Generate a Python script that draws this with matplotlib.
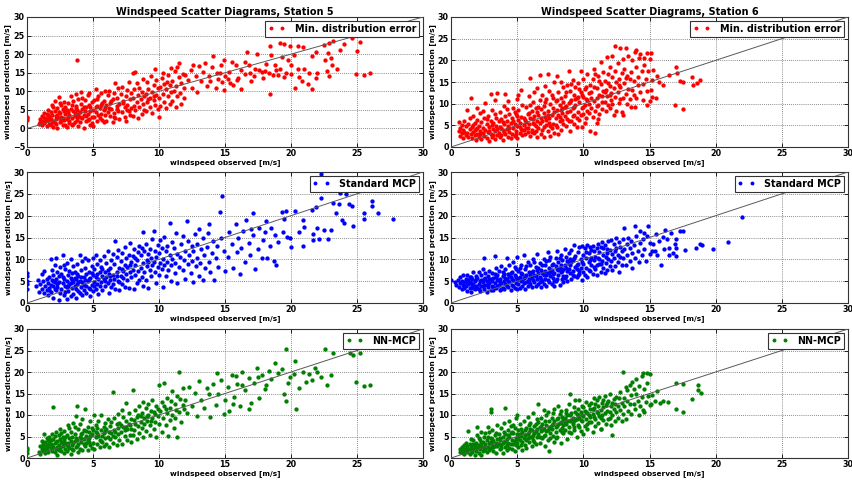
import matplotlib
matplotlib.use("Agg")
import matplotlib.pyplot as plt

# Observed vs. predicted wind speed [m/s], one list of (observed, predicted) per method and station

s5_min_dist = [
    (0.0,2.2),(0.0,2.8),(0.0,3.1),
    (0.9,1.2),(1.0,2.6),(1.1,3.4),(1.1,0.8),(1.2,2.0),(1.3,4.1),(1.3,1.5),(1.4,2.9),(1.5,0.6),(1.5,3.8),(1.6,2.2),(1.6,5.0),(1.7,1.1),(1.7,3.2),(1.8,2.6),(1.8,4.4),(1.9,1.7),(1.9,6.2),(1.2,3.0),(1.4,1.9),(1.6,3.5),(1.8,0.9),(1.0,1.8),(1.5,2.5),(1.9,3.6),
    (2.0,0.4),(2.0,2.1),(2.1,4.8),(2.1,7.5),(2.2,1.3),(2.2,3.3),(2.3,5.6),(2.3,0.2),(2.4,2.7),(2.4,8.4),(2.5,4.1),(2.5,1.6),(2.6,6.3),(2.6,3.0),(2.7,0.8),(2.7,5.2),(2.8,2.3),(2.8,7.0),(2.9,3.9),(2.9,1.0),(2.0,5.7),(2.2,2.5),(2.4,4.5),(2.6,1.9),(2.8,4.8),(2.3,3.7),(2.5,6.9),(2.7,2.9),(2.9,5.8),(2.1,1.5),
    (3.0,0.3),(3.0,2.5),(3.1,4.4),(3.1,6.8),(3.2,1.4),(3.2,3.6),(3.3,8.6),(3.3,5.3),(3.4,0.9),(3.4,2.9),(3.5,4.7),(3.5,7.3),(3.6,1.8),(3.6,3.3),(3.7,6.0),(3.7,9.3),(3.8,2.4),(3.8,4.9),(3.9,0.6),(3.9,7.8),(3.8,18.4),(3.0,5.0),(3.2,2.1),(3.4,6.2),(3.6,4.1),(3.8,3.0),(3.1,3.2),(3.5,1.2),(3.7,5.4),(3.9,3.8),
    (4.0,1.6),(4.0,4.5),(4.1,6.7),(4.1,9.8),(4.2,2.8),(4.2,5.2),(4.3,0.0),(4.3,3.7),(4.4,7.6),(4.5,1.9),(4.5,5.9),(4.6,4.0),(4.6,8.9),(4.7,2.5),(4.7,6.4),(4.8,0.8),(4.8,4.8),(4.9,3.2),(4.9,7.1),(4.0,3.1),(4.2,8.1),(4.4,4.6),(4.6,2.2),(4.8,5.7),(4.3,5.9),(4.5,3.4),(4.7,9.5),(4.9,1.4),
    (5.0,0.6),(5.0,5.0),(5.1,3.1),(5.1,7.7),(5.2,10.5),(5.2,4.3),(5.3,1.9),(5.3,6.1),(5.4,8.8),(5.5,2.8),(5.5,5.5),(5.6,4.0),(5.6,9.6),(5.7,6.8),(5.7,2.2),(5.8,4.9),(5.8,7.4),(5.9,3.5),(5.9,10.1),(5.2,5.8),(5.4,3.6),(5.6,6.4),(5.8,1.6),(5.3,8.0),(5.9,5.4),
    (6.0,2.0),(6.0,6.2),(6.1,4.4),(6.1,8.9),(6.2,10.2),(6.3,3.3),(6.3,6.9),(6.4,5.3),(6.5,1.6),(6.5,7.8),(6.6,4.1),(6.6,9.5),(6.7,12.3),(6.7,2.8),(6.8,6.0),(6.8,8.3),(6.9,4.8),(6.9,10.8),(6.2,5.6),(6.4,7.3),(6.6,3.0),(6.8,5.1),
    (7.0,2.5),(7.0,6.6),(7.1,9.2),(7.2,4.3),(7.2,11.2),(7.3,7.4),(7.4,3.0),(7.4,5.7),(7.5,8.6),(7.5,1.9),(7.6,10.3),(7.6,6.2),(7.7,4.6),(7.7,12.5),(7.8,7.9),(7.8,3.6),(7.9,9.6),(7.9,5.5),(7.3,6.8),(7.6,4.9),
    (8.0,3.4),(8.0,8.2),(8.0,14.9),(8.1,6.1),(8.1,10.6),(8.2,4.9),(8.3,12.1),(8.3,7.2),(8.4,2.7),(8.4,9.1),(8.5,5.7),(8.5,11.0),(8.6,7.9),(8.7,3.9),(8.7,9.8),(8.8,6.5),(8.8,13.4),(8.9,8.6),(8.9,5.0),(8.2,15.3),
    (9.0,4.7),(9.0,9.3),(9.1,7.0),(9.1,12.4),(9.2,10.6),(9.3,5.8),(9.3,8.2),(9.4,14.0),(9.5,4.1),(9.5,9.9),(9.6,7.6),(9.6,11.7),(9.7,6.3),(9.7,15.9),(9.8,9.0),(9.8,13.0),(9.9,5.3),(9.9,10.8),(9.2,7.9),(9.6,8.7),
    (10.0,3.2),(10.0,8.3),(10.1,11.2),(10.1,6.0),(10.2,13.5),(10.3,9.4),(10.3,15.0),(10.4,7.1),(10.5,10.5),(10.5,5.4),(10.6,12.6),(10.7,8.7),(10.7,14.3),(10.8,6.7),(10.8,11.6),(10.9,9.9),(10.9,16.2),(10.4,12.0),
    (11.0,7.3),(11.0,12.9),(11.1,10.0),(11.2,15.4),(11.3,5.9),(11.3,11.4),(11.4,8.6),(11.5,13.8),(11.5,17.5),(11.6,9.5),(11.7,12.2),(11.7,6.6),(11.8,14.6),(11.9,10.8),(11.9,8.1),(11.4,16.6),
    (24.6,24.4),(25.2,23.3),(25.0,20.9),(24.9,14.7),(25.5,14.4),(26.0,15.0),(24.0,22.8),(23.7,21.2),(23.2,23.6),(22.9,22.9),(22.5,22.4),(22.8,20.3),(23.0,19.0),(22.6,18.3),(23.1,17.0),(22.7,15.5),(22.9,14.0),(22.0,15.0),(21.9,13.6),(21.4,14.8),
    (21.0,16.1),(20.6,13.8),(20.3,11.0),(21.6,10.7),(21.3,12.0),(20.8,12.8),(20.5,15.9),(20.0,17.0),(20.9,21.8),(20.5,22.3),(19.9,22.2),(19.5,22.6),(19.2,22.9),(18.4,22.3),(18.5,19.9),(18.1,17.4),(18.8,17.0),(19.2,16.0),(19.6,15.0),(19.8,18.5),
    (19.3,19.2),(18.6,14.5),(18.3,14.8),(18.0,15.5),(18.4,9.4),(17.9,13.5),(17.6,15.7),(17.3,16.0),(17.4,20.0),(16.7,20.5),(16.5,17.8),(16.9,14.9),(16.5,14.6),(16.2,15.8),(15.9,13.0),(15.8,17.2),(15.5,17.9),(15.3,15.1),(15.6,11.8),(15.2,13.2),
    (14.9,18.5),(14.7,17.2),(14.6,15.0),(14.8,12.5),(14.4,14.8),(14.1,19.5),(14.0,16.5),(13.8,14.0),(14.3,11.0),(14.9,10.3),(13.5,17.5),(13.3,15.2),(13.2,12.8),(13.0,16.8),(12.8,14.0),(13.6,11.5),(12.6,17.1),(12.4,15.6),(12.2,13.0),(12.5,11.0),
    (12.0,14.4),(12.9,9.7),(13.9,12.7),(14.5,13.3),(15.0,14.0),(16.0,13.6),(17.0,12.8),(16.8,17.2),(17.8,15.1),(19.0,14.3),(19.5,13.9),(21.6,19.4),(21.9,20.7),(23.5,16.0),(20.2,19.9),(20.0,14.7),(18.9,15.6),(17.2,14.0),(16.2,10.7),(15.4,12.3),
]

s6_min_dist = [
    (0.6,3.8),(0.6,5.8),(0.7,2.6),(0.7,4.5),(0.8,3.2),(0.8,5.1),(0.9,2.1),(0.9,4.0),(1.0,3.5),(1.0,6.1),(1.1,2.8),(1.1,4.8),(1.2,8.5),(1.2,3.3),(1.3,5.4),(1.3,2.3),(1.4,4.2),(1.4,6.6),(1.5,3.0),(1.5,11.2),
    (1.6,2.0),(1.6,4.6),(1.7,3.5),(1.7,7.2),(1.8,2.7),(1.8,5.5),(1.9,1.6),(1.9,4.1),(2.0,3.1),(2.0,6.3),(2.0,9.0),(2.1,2.3),(2.1,4.9),(2.2,3.8),(2.2,7.8),(2.3,1.8),(2.3,5.7),(2.4,3.3),(2.4,4.4),(2.5,2.6),(2.5,6.8),(1.8,3.9),(2.2,2.9),(2.4,8.4),(1.7,5.0),(2.0,4.4),
    (2.6,4.0),(2.6,10.1),(2.7,2.1),(2.7,5.3),(2.8,3.4),(2.8,7.2),(2.9,1.5),(2.9,4.6),(3.0,3.0),(3.0,6.1),(3.0,12.3),(3.1,2.4),(3.1,8.6),(3.2,4.2),(3.2,5.5),(3.3,1.9),(3.3,3.6),(3.3,10.8),(3.4,6.8),(3.4,4.9),(3.5,2.7),(3.5,12.4),(2.7,6.4),(2.9,3.8),(3.1,5.0),(3.3,7.6),(3.5,4.1),(3.2,2.8),
    (3.6,3.2),(3.6,5.9),(3.7,2.2),(3.7,8.0),(3.8,4.4),(3.8,6.5),(3.9,1.7),(3.9,3.9),(4.0,5.3),(4.0,9.4),(4.1,2.9),(4.1,12.2),(4.1,7.1),(4.2,4.1),(4.2,6.0),(4.3,2.4),(4.3,4.9),(4.3,10.6),(4.4,3.5),(4.4,7.7),(4.5,5.6),(4.5,2.0),(3.7,4.7),(3.9,5.8),(4.0,3.4),(4.2,8.7),(4.4,4.4),(3.8,2.7),
    (4.6,3.1),(4.6,6.6),(4.7,4.3),(4.7,9.0),(4.8,2.5),(4.8,5.4),(4.9,7.7),(4.9,3.7),(5.0,4.8),(5.0,11.0),(5.0,2.1),(5.1,6.2),(5.1,8.6),(5.2,3.3),(5.2,5.6),(5.3,13.1),(5.3,4.2),(5.3,7.0),(5.4,2.7),(5.4,9.8),(5.5,5.1),(5.5,6.8),(4.7,5.9),(4.9,2.9),(5.0,7.1),(5.2,4.6),(5.4,3.9),(4.8,8.1),(5.1,12.0),(5.5,4.0),
    (5.6,2.9),(5.6,6.3),(5.7,4.5),(5.7,9.2),(5.8,3.5),(5.8,7.6),(5.9,5.2),(5.9,11.7),(6.0,2.6),(6.0,6.7),(6.0,15.9),(6.1,4.0),(6.1,8.4),(6.2,5.6),(6.2,10.3),(6.3,3.2),(6.3,7.1),(6.3,12.8),(6.4,4.8),(6.4,9.0),(6.5,6.0),(6.5,2.3),(5.7,5.8),(5.9,7.9),(6.1,3.4),(6.3,5.3),(6.5,8.0),(5.8,4.3),(6.0,9.7),(6.2,6.4),(6.4,3.8),(6.5,13.6),
    (6.6,4.4),(6.6,7.3),(6.7,16.6),(6.7,5.5),(6.7,10.8),(6.8,3.0),(6.8,8.8),(6.9,6.1),(6.9,12.0),(7.0,4.6),(7.0,9.5),(7.0,2.2),(7.1,7.0),(7.1,14.0),(7.2,5.1),(7.2,11.0),(7.3,3.6),(7.3,8.2),(7.3,16.8),(7.4,6.6),(7.4,13.0),(7.5,4.9),(7.5,9.9),(6.6,9.3),(6.8,6.7),(7.0,7.8),(7.2,6.2),(7.4,5.5),(6.9,3.9),(7.1,10.3),(7.3,7.4),(7.5,2.6),
    (7.6,7.4),(7.6,12.1),(7.7,5.3),(7.7,9.1),(7.8,3.3),(7.8,14.9),(7.9,6.8),(7.9,10.6),(8.0,4.6),(8.0,8.5),(8.0,16.4),(8.1,7.3),(8.1,12.6),(8.2,5.9),(8.2,9.8),(8.3,3.9),(8.3,11.4),(8.3,15.1),(8.4,7.9),(8.4,6.2),(8.5,10.3),(8.5,13.8),(7.6,4.3),(7.8,8.0),(8.0,10.9),(8.2,7.0),(8.4,9.0),(7.7,11.2),(7.9,5.0),(8.1,2.9),(8.3,8.6),(8.5,5.4),
    (8.6,7.1),(8.6,11.8),(8.7,4.8),(8.7,9.4),(8.8,14.4),(8.8,6.5),(8.9,10.1),(8.9,17.5),(9.0,8.2),(9.0,12.9),(9.0,3.7),(9.1,6.0),(9.1,10.9),(9.2,8.9),(9.2,15.5),(9.3,5.3),(9.3,12.0),(9.3,7.5),(9.4,9.8),(9.4,13.9),(9.5,6.8),(9.5,11.3),(8.6,9.2),(8.8,8.1),(9.0,10.4),(9.2,7.1),(9.4,11.1),(8.7,12.8),(8.9,5.9),(9.1,14.6),(9.3,9.2),(9.5,4.6),
    (9.6,8.1),(9.6,14.8),(9.7,10.4),(9.7,6.2),(9.8,12.6),(9.8,17.6),(9.9,9.0),(9.9,4.7),(10.0,11.5),(10.0,7.6),(10.0,15.6),(10.1,13.3),(10.1,9.6),(10.2,6.7),(10.2,11.0),(10.3,16.9),(10.3,8.4),(10.4,12.5),(10.4,10.0),(10.5,3.6),(10.5,14.3),(9.6,11.6),(9.8,7.3),(10.0,9.2),(10.2,13.9),(10.4,7.8),(9.7,13.3),(9.9,11.9),(10.1,5.6),(10.3,10.8),
    (10.6,9.1),(10.6,12.8),(10.7,6.9),(10.7,15.7),(10.8,10.6),(10.8,18.0),(10.9,3.3),(10.9,8.3),(11.0,13.6),(11.0,11.2),(11.0,5.6),(11.1,16.4),(11.1,9.8),(11.2,7.6),(11.2,12.1),(11.3,19.6),(11.3,14.6),(11.4,10.4),(11.4,8.7),(11.5,17.2),(11.5,12.9),(10.6,11.4),(10.8,13.8),(11.0,9.5),(11.2,15.2),(11.4,11.7),(10.9,16.9),(11.1,6.4),
    (11.6,10.5),(11.6,15.3),(11.7,13.2),(11.7,8.2),(11.8,20.7),(11.8,11.8),(11.9,16.8),(11.9,9.6),(12.0,14.0),(12.0,8.9),(12.0,18.5),(12.1,12.4),(12.1,10.8),(12.2,16.1),(12.2,21.0),(12.3,13.6),(12.3,7.3),(12.4,23.2),(12.4,11.5),(12.5,15.0),(12.5,8.3),(11.6,12.7),(11.9,14.8),(12.2,9.9),(12.4,17.6),(12.0,12.0),
    (12.6,12.6),(12.6,19.3),(12.7,10.2),(12.7,15.8),(12.8,22.8),(12.8,13.9),(12.9,8.0),(12.9,17.0),(13.0,11.4),(13.0,20.2),(13.0,7.5),(13.1,14.7),(13.1,18.1),(13.2,22.8),(13.2,12.2),(13.3,16.4),(13.3,9.9),(13.4,21.0),(13.4,13.5),(13.5,15.6),(13.5,11.0),(12.8,11.0),(13.2,16.0),(12.7,14.2),
    (13.6,17.4),(13.6,9.2),(13.7,20.0),(13.7,13.2),(13.8,15.3),(13.8,11.9),(13.9,22.0),(13.9,9.2),(14.0,18.4),(14.0,11.4),(14.0,22.3),(14.1,14.2),(14.1,16.2),(14.2,20.5),(14.3,12.8),(14.3,21.5),(14.4,17.6),(14.5,10.9),(14.5,14.6),(14.6,20.6),(14.6,19.0),(14.7,15.6),(14.8,21.6),(14.8,13.0),(14.8,9.6),(14.9,17.6),(15.0,20.3),(15.1,21.8),
    (15.0,10.7),(15.2,11.6),(15.1,13.2),(15.2,15.4),(15.3,17.8),(15.6,16.5),(15.7,14.9),(16.5,16.7),(17.0,18.4),(17.1,17.0),(17.3,15.2),(17.5,15.0),(18.2,16.1),(18.3,14.3),(18.6,14.8),(18.8,15.4),(16.9,9.7),(17.5,8.8),(15.5,11.4),(16.0,14.3),
]

s5_standard = [
    (0.0,3.2),(0.0,4.3),(0.0,5.1),(0.0,6.2),(0.0,6.8),(0.7,3.9),(0.8,5.2),(0.9,2.6),(1.0,4.4),(1.1,6.6),(1.1,3.1),(1.2,5.0),(1.3,2.2),(1.3,7.4),(1.4,4.0),(1.5,5.6),(1.5,3.0),
    (1.6,1.8),(1.6,4.6),(1.7,3.4),(1.7,6.0),(1.8,10.0),(1.8,2.6),(1.9,5.2),(1.9,7.6),(2.0,3.9),(2.0,1.2),(2.0,6.4),(2.1,4.7),(2.1,8.8),(2.2,2.9),(2.2,5.6),(2.2,10.3),(2.3,3.6),(2.3,7.0),(2.4,0.6),(2.4,4.9),(2.4,6.1),(2.5,2.3),(2.5,8.2),(1.8,4.2),(2.0,5.0),(2.3,4.3),(1.7,3.0),(2.1,3.2),
    (2.6,3.3),(2.6,6.7),(2.7,4.6),(2.7,11.0),(2.8,1.8),(2.8,5.5),(2.9,7.9),(2.9,3.8),(3.0,5.0),(3.0,0.9),(3.0,9.2),(3.1,2.7),(3.1,6.3),(3.2,4.3),(3.2,7.4),(3.3,1.5),(3.3,5.8),(3.3,10.1),(3.4,3.4),(3.4,6.8),(3.5,4.8),(3.5,2.1),(2.7,5.9),(2.9,2.5),(3.1,4.0),(3.3,4.5),(3.5,8.5),(2.8,8.6),(3.0,3.7),(3.4,5.3),
    (3.6,3.9),(3.6,7.0),(3.7,5.5),(3.7,1.1),(3.8,4.4),(3.8,8.9),(3.9,2.8),(3.9,6.2),(4.0,5.1),(4.0,11.1),(4.1,3.6),(4.1,7.5),(4.2,1.8),(4.2,4.7),(4.2,9.6),(4.3,6.0),(4.3,3.0),(4.4,5.3),(4.4,8.1),(4.5,4.0),(4.5,6.7),(3.7,3.2),(3.9,4.9),(4.1,6.0),(4.3,4.2),(4.5,2.4),(3.8,6.6),(4.0,2.2),(4.4,10.4),(3.6,5.7),
    (4.6,5.0),(4.6,9.8),(4.7,3.4),(4.7,7.2),(4.8,1.5),(4.8,5.7),(4.9,4.2),(4.9,8.4),(5.0,6.3),(5.0,2.7),(5.0,10.2),(5.1,4.8),(5.1,7.7),(5.2,3.1),(5.2,6.0),(5.3,9.0),(5.3,4.4),(5.4,5.4),(5.4,2.0),(5.5,7.1),(5.5,4.0),(4.7,5.6),(4.9,6.8),(5.1,3.8),(5.3,6.6),(5.5,9.9),(4.8,3.2),(5.2,11.0),
    (5.6,4.8),(5.6,8.3),(5.7,6.2),(5.7,2.9),(5.8,5.4),(5.8,10.8),(5.9,7.2),(5.9,3.9),(6.0,5.9),(6.0,9.1),(6.1,4.5),(6.1,12.0),(6.2,6.7),(6.2,2.2),(6.3,8.0),(6.3,5.2),(6.4,3.6),(6.4,9.9),(6.5,6.4),(6.5,4.3),(5.7,7.8),(5.9,5.0),(6.1,7.5),(6.3,6.1),(6.5,11.2),
    (6.6,5.4),(6.6,8.9),(6.7,14.1),(6.7,3.3),(6.8,7.0),(6.8,10.6),(6.9,5.0),(6.9,12.2),(7.0,8.0),(7.0,2.9),(7.1,6.1),(7.1,9.6),(7.2,4.4),(7.2,11.4),(7.3,7.4),(7.3,5.7),(7.4,8.8),(7.4,3.6),(7.5,6.6),(7.5,10.2),(6.8,6.2),(7.0,4.8),(7.2,7.8),(7.4,12.9),
    (7.6,5.3),(7.6,8.3),(7.7,11.0),(7.7,3.5),(7.8,7.0),(7.8,13.8),(7.9,9.3),(7.9,5.9),(8.0,10.7),(8.0,7.6),(8.1,3.1),(8.1,12.3),(8.2,8.6),(8.2,6.4),(8.3,9.8),(8.3,4.6),(8.4,11.6),(8.4,7.3),(8.5,13.0),(8.5,5.2),(7.8,8.7),(8.2,10.2),
    (8.6,8.0),(8.6,10.9),(8.7,6.0),(8.7,12.7),(8.8,4.0),(8.8,9.2),(8.9,11.8),(8.9,7.1),(9.0,13.5),(9.0,5.3),(9.1,9.9),(9.1,8.4),(9.2,11.2),(9.2,3.4),(9.3,7.6),(9.3,12.4),(9.4,10.3),(9.4,6.2),(9.5,14.6),(9.5,8.7),(8.8,16.3),(9.2,9.3),
    (9.6,16.5),(9.6,9.5),(9.7,7.0),(9.7,12.0),(9.8,10.6),(9.8,4.6),(9.9,8.3),(9.9,13.3),(10.0,11.4),(10.0,6.5),(10.1,9.2),(10.1,14.5),(10.2,7.8),(10.2,12.6),(10.3,10.1),(10.3,3.6),(10.4,8.8),(10.4,15.1),(10.5,11.8),(10.5,6.1),
    (10.6,9.4),(10.6,13.1),(10.7,7.5),(10.8,18.4),(10.8,11.0),(10.9,5.0),(10.9,8.6),(11.0,14.0),(11.0,10.1),(11.1,12.5),(11.2,6.9),(11.2,9.2),(11.3,16.0),(11.4,11.3),(11.4,4.6),(11.5,8.3),
    (11.6,10.6),(11.7,13.6),(11.8,7.6),(11.8,15.3),(11.9,9.8),(12.0,12.0),(12.0,5.6),(12.1,18.7),(12.2,8.9),(12.2,14.3),(12.3,11.0),(12.4,6.9),(12.5,13.0),(12.5,9.6),
    (12.6,4.8),(12.6,11.9),(12.7,15.8),(12.8,8.4),(12.9,10.3),(12.9,13.6),(13.0,6.1),(13.0,16.9),(13.1,9.1),(13.2,12.4),(13.3,5.2),(13.3,14.8),(13.4,10.9),(13.5,8.0),
    (13.6,12.9),(13.7,16.0),(13.8,9.5),(13.8,18.0),(13.9,7.0),(14.0,11.4),(14.1,14.1),(14.2,5.3),(14.3,10.4),(14.4,13.0),(14.5,8.3),(14.6,20.8),(14.7,15.0),(14.8,24.5),(14.9,11.8),(15.0,7.4),
    (15.2,10.5),(15.3,16.2),(15.5,13.4),(15.6,8.0),(15.8,18.0),(15.9,11.6),(16.0,14.9),(16.1,6.6),(16.2,12.5),(16.4,16.5),(16.5,9.3),(16.6,18.9),(16.8,13.8),(16.9,11.0),(17.1,20.5),(17.1,15.6),(17.3,7.8),(17.5,12.3),(17.6,17.1),(17.8,10.2),
    (17.9,14.4),(18.0,16.3),(18.2,10.3),(18.4,13.0),(18.5,17.2),(18.7,9.6),(18.8,15.5),(18.9,8.6),(19.0,13.9),(19.3,20.9),(19.4,16.2),(19.6,21.0),(19.7,15.2),(19.9,15.0),(20.3,21.1),(20.6,16.3),(20.9,13.1),(20.9,19.0),(21.0,17.4),(21.6,21.4),
    (21.7,15.8),(21.7,14.4),(22.1,14.7),(22.3,24.0),(22.3,29.5),(22.5,16.7),(22.8,14.7),(23.0,16.7),(23.2,22.8),(23.4,20.5),(23.6,22.6),(23.7,25.2),(23.9,19.0),(24.0,18.4),(24.4,22.6),(24.6,22.2),(24.7,17.7),(25.5,20.6),(25.5,19.3),(26.1,23.4),
    (26.1,22.3),(26.6,20.7),(27.7,19.2),(24.2,25.0),(21.9,21.9),(22.0,17.2),(19.5,19.3),(18.1,18.8),(17.0,16.9),(20.0,12.9),
]

s6_standard = [
    (0.0,5.2),(0.3,4.7),(0.4,4.1),(0.5,5.3),(0.6,3.6),(0.7,4.6),(0.7,5.9),(0.8,3.2),(0.8,5.0),(0.9,4.2),(0.9,6.3),(1.0,3.5),
    (1.0,4.9),(1.1,5.6),(1.1,3.9),(1.2,2.8),(1.2,6.4),(1.3,4.4),(1.3,5.2),(1.4,3.5),(1.4,6.0),(1.5,4.6),(1.5,2.6),(1.6,5.5),(1.6,3.8),(1.7,7.0),(1.7,4.3),(1.8,5.0),(1.8,3.1),(1.9,6.1),(1.9,4.0),(1.2,4.5),(1.5,5.9),(1.7,3.4),(1.4,4.9),(1.9,5.4),
    (2.0,3.5),(2.0,5.8),(2.1,4.4),(2.1,7.2),(2.2,2.8),(2.2,5.1),(2.3,6.4),(2.3,3.8),(2.4,4.7),(2.4,7.7),(2.5,10.2),(2.5,3.2),(2.5,5.5),(2.6,4.1),(2.6,6.8),(2.7,2.6),(2.7,5.0),(2.8,3.6),(2.8,6.1),(2.9,4.5),(2.9,7.3),(3.0,3.0),(2.1,3.1),(2.3,5.2),(2.6,5.8),(2.8,4.3),(2.4,3.9),(2.9,5.6),
    (3.0,5.4),(3.1,6.9),(3.1,4.0),(3.2,2.9),(3.2,5.8),(3.3,10.7),(3.3,4.6),(3.4,8.0),(3.4,3.4),(3.5,5.2),(3.5,6.4),(3.6,4.1),(3.6,7.3),(3.7,2.9),(3.7,5.6),(3.8,4.5),(3.8,8.4),(3.9,3.5),(3.9,6.2),(4.0,5.0),(3.1,5.0),(3.3,6.6),(3.5,3.9),(3.7,4.8),(3.9,7.1),(3.2,3.6),(3.4,5.9),(3.6,5.2),(3.8,3.3),(4.0,6.7),
    (4.0,3.1),(4.1,4.3),(4.1,7.8),(4.2,10.3),(4.2,5.5),(4.3,3.6),(4.3,6.6),(4.4,4.8),(4.4,8.7),(4.5,3.0),(4.5,5.9),(4.6,7.2),(4.6,4.1),(4.7,5.3),(4.7,9.3),(4.8,3.4),(4.8,6.5),(4.9,4.6),(4.9,7.9),(5.0,5.6),(4.1,5.8),(4.3,5.0),(4.5,6.9),(4.7,3.8),(4.9,5.9),(4.2,4.0),(4.4,6.2),(4.6,5.5),(4.8,8.2),(5.0,3.2),
    (5.0,10.6),(5.1,4.3),(5.1,7.4),(5.2,6.0),(5.2,3.5),(5.3,8.8),(5.3,5.1),(5.4,6.7),(5.4,4.0),(5.5,10.9),(5.5,5.7),(5.6,3.3),(5.6,7.9),(5.7,4.8),(5.7,6.3),(5.8,9.5),(5.8,3.9),(5.9,5.4),(5.9,7.2),(6.0,4.4),(5.1,5.6),(5.3,6.9),(5.5,4.5),(5.7,8.5),(5.9,4.9),(5.2,8.0),(5.4,5.2),(5.6,6.0),(5.8,5.1),(6.0,6.5),
    (6.0,8.7),(6.1,3.6),(6.1,5.8),(6.2,7.3),(6.2,10.0),(6.3,4.8),(6.3,6.5),(6.4,3.9),(6.4,8.3),(6.5,5.5),(6.5,11.2),(6.6,6.8),(6.6,4.3),(6.7,9.1),(6.7,5.9),(6.8,3.7),(6.8,7.6),(6.9,5.0),(6.9,8.8),(7.0,6.4),(6.1,7.0),(6.3,9.3),(6.5,7.6),(6.7,4.9),(6.9,6.8),(6.2,5.2),(6.4,6.1),(6.6,8.0),(6.8,5.6),(7.0,10.1),
    (7.0,4.3),(7.1,7.3),(7.1,5.5),(7.2,9.6),(7.2,3.8),(7.3,6.8),(7.3,11.6),(7.4,4.9),(7.4,8.1),(7.5,6.1),(7.5,10.5),(7.6,4.4),(7.6,7.5),(7.7,5.8),(7.7,9.0),(7.8,3.9),(7.8,6.9),(7.9,8.4),(7.9,5.1),(8.0,7.7),(7.1,8.6),(7.3,5.2),(7.5,7.0),(7.7,6.6),(7.9,10.2),(7.2,6.3),(7.4,9.9),(7.6,8.7),(7.8,5.0),(8.0,12.0),
    (8.0,5.4),(8.1,9.4),(8.1,6.5),(8.2,4.2),(8.2,8.1),(8.3,11.0),(8.3,7.1),(8.4,5.6),(8.4,9.9),(8.5,7.7),(8.5,4.8),(8.6,12.3),(8.6,8.6),(8.7,6.2),(8.7,10.6),(8.8,7.3),(8.8,5.0),(8.9,9.1),(8.9,11.5),(9.0,6.8),(8.1,7.6),(8.3,8.8),(8.5,6.1),(8.7,8.0),(8.9,7.8),(8.2,10.3),(8.4,7.3),(8.6,5.7),(8.8,9.6),(9.0,10.0),
    (9.0,8.6),(9.1,5.5),(9.1,12.1),(9.2,7.4),(9.2,9.8),(9.3,6.2),(9.3,13.2),(9.4,8.3),(9.4,10.7),(9.5,5.9),(9.5,7.8),(9.6,11.6),(9.6,9.0),(9.7,6.7),(9.7,12.8),(9.8,8.0),(9.8,10.1),(9.9,5.2),(9.9,9.4),(10.0,11.0),(9.1,9.5),(9.3,10.4),(9.5,8.8),(9.7,7.4),(9.9,13.1),(9.2,6.5),(9.6,6.4),(10.0,7.2),
    (10.0,9.0),(10.1,12.6),(10.1,6.3),(10.2,10.2),(10.2,8.1),(10.3,13.3),(10.3,5.9),(10.4,9.5),(10.4,11.4),(10.5,7.4),(10.5,12.8),(10.6,8.7),(10.6,10.4),(10.7,6.6),(10.7,13.0),(10.8,9.8),(10.8,11.8),(10.9,7.8),(10.9,10.6),(11.0,8.6),(10.2,11.6),(10.4,7.6),(10.6,12.1),(10.8,8.3),(11.0,12.5),(10.5,9.8),
    (11.0,6.5),(11.1,10.3),(11.1,13.6),(11.2,8.9),(11.2,11.7),(11.3,7.1),(11.3,12.9),(11.4,9.7),(11.4,14.0),(11.5,8.0),(11.5,11.0),(11.6,6.9),(11.6,13.2),(11.7,9.2),(11.7,10.5),(11.8,12.3),(11.8,7.6),(11.9,14.2),(11.9,10.0),(12.0,8.5),(11.2,10.0),(11.5,12.6),(11.8,11.5),(11.3,9.0),
    (12.0,12.1),(12.1,9.6),(12.1,14.4),(12.2,7.5),(12.2,11.3),(12.3,13.5),(12.3,10.2),(12.4,8.4),(12.5,12.7),(12.5,14.9),(12.6,9.3),(12.6,11.1),(12.7,7.2),(12.7,13.9),(12.8,10.5),(12.9,12.0),(12.9,8.7),(13.0,14.6),(12.4,11.8),(12.8,12.9),
    (13.0,10.3),(13.1,17.2),(13.1,12.3),(13.2,8.6),(13.3,13.6),(13.3,11.0),(13.4,15.0),(13.5,9.6),(13.5,12.6),(13.6,14.3),(13.7,11.5),(13.7,8.1),(13.8,13.2),(13.9,17.7),(13.9,10.4),(14.0,15.3),(14.1,12.0),(14.2,9.3),(14.3,16.5),(14.3,13.8),(14.4,11.0),(14.5,14.6),
    (14.6,12.4),(14.7,9.6),(14.8,15.4),(14.9,17.6),(15.0,11.2),(15.0,13.8),(15.2,12.0),(15.3,13.5),(15.5,15.8),(15.6,10.9),(15.7,14.3),(15.9,8.6),(16.0,15.2),(16.1,12.4),(16.2,16.7),(16.3,14.7),(16.5,12.7),(16.5,11.0),(16.6,16.0),(16.8,11.5),
    (17.0,14.7),(17.0,12.5),(17.0,10.8),(17.3,16.4),(17.5,16.6),(17.7,12.2),(18.5,12.5),(18.8,13.5),(19.0,13.2),(19.8,12.4),(20.9,14.0),(22.0,19.7),(16.9,13.4),(15.4,11.8),(14.6,16.1),
]

s5_nn = [
    (0.0,1.2),(0.0,1.8),(0.0,2.3),(0.9,1.3),(1.0,2.9),(1.0,1.0),
    (1.1,2.2),(1.1,4.0),(1.2,1.6),(1.2,3.3),(1.3,5.5),(1.3,2.6),(1.4,1.2),(1.4,3.7),(1.5,2.0),(1.5,4.6),(1.6,2.9),(1.6,1.4),(1.7,3.5),(1.7,5.0),(1.8,2.3),(1.8,4.1),(1.9,1.7),(1.9,3.0),(2.0,11.8),(1.2,2.8),(1.4,2.4),(1.6,4.2),(1.8,3.3),(1.5,3.1),(1.9,5.6),(1.3,1.9),
    (2.0,2.6),(2.0,4.5),(2.1,1.3),(2.1,3.4),(2.2,6.0),(2.2,2.1),(2.3,4.0),(2.3,0.8),(2.4,3.0),(2.4,5.3),(2.5,2.4),(2.5,6.8),(2.6,3.7),(2.6,1.6),(2.7,4.8),(2.7,2.9),(2.8,6.3),(2.8,1.1),(2.9,3.4),(2.9,5.0),(2.1,5.1),(2.3,2.6),(2.5,4.4),(2.7,3.6),(2.9,2.2),(2.2,3.8),(2.4,1.8),(2.6,5.7),(2.8,4.2),(3.0,3.0),
    (3.0,1.6),(3.0,5.4),(3.1,3.6),(3.1,7.6),(3.2,2.3),(3.2,4.6),(3.3,0.9),(3.3,6.1),(3.4,3.1),(3.4,4.9),(3.5,1.8),(3.5,8.2),(3.6,3.9),(3.6,5.6),(3.7,2.6),(3.7,9.8),(3.8,12.0),(3.8,4.3),(3.9,6.7),(3.9,1.5),(3.1,2.8),(3.3,4.0),(3.5,3.4),(3.7,4.7),(3.9,3.2),(3.2,6.9),(3.4,2.1),(3.6,7.2),(3.8,2.9),(4.0,5.0),
    (4.0,2.1),(4.0,7.8),(4.1,3.8),(4.1,5.6),(4.2,1.8),(4.2,9.1),(4.3,4.4),(4.3,6.5),(4.4,2.8),(4.4,11.5),(4.5,5.1),(4.5,3.4),(4.6,7.3),(4.6,1.9),(4.7,4.7),(4.7,6.0),(4.8,3.0),(4.8,8.6),(4.9,5.5),(4.9,2.4),(4.1,4.6),(4.3,3.2),(4.5,6.2),(4.7,3.7),(4.9,7.0),(4.2,5.9),(4.6,4.2),(4.8,5.2),
    (5.0,3.6),(5.0,6.6),(5.1,2.2),(5.1,9.9),(5.2,4.9),(5.2,7.7),(5.3,3.2),(5.3,5.7),(5.4,8.5),(5.5,4.3),(5.5,2.6),(5.6,6.4),(5.6,10.0),(5.7,3.8),(5.7,5.1),(5.8,7.2),(5.8,2.9),(5.9,4.6),(5.9,8.1),(5.2,6.0),(5.4,5.2),(5.6,4.0),(5.8,5.8),(5.3,7.0),(5.9,6.2),
    (6.0,3.3),(6.0,6.8),(6.1,5.0),(6.1,9.0),(6.2,2.6),(6.3,7.5),(6.3,4.4),(6.4,5.9),(6.5,15.4),(6.5,3.6),(6.6,6.5),(6.6,9.4),(6.7,4.9),(6.8,7.8),(6.8,3.0),(6.9,5.6),(6.9,10.2),(6.2,6.1),(6.4,8.4),(6.7,6.1),(6.9,7.0),(6.5,5.2),
    (7.0,4.3),(7.0,8.2),(7.1,6.1),(7.2,11.2),(7.2,3.3),(7.3,7.1),(7.3,9.6),(7.4,5.2),(7.5,8.6),(7.5,12.9),(7.6,4.1),(7.6,6.7),(7.7,10.4),(7.8,7.6),(7.8,5.4),(7.9,9.1),(7.9,3.8),(7.1,7.6),(7.4,6.4),(7.7,8.0),(7.9,6.7),(7.5,7.3),
    (8.0,5.3),(8.0,15.8),(8.1,8.8),(8.1,6.6),(8.2,11.2),(8.3,4.4),(8.3,9.6),(8.4,7.4),(8.5,12.0),(8.5,5.8),(8.6,8.4),(8.7,10.5),(8.7,6.9),(8.8,13.0),(8.8,4.8),(8.9,9.3),(8.9,7.8),(8.2,7.9),(8.6,9.8),(8.4,10.0),
    (9.0,6.2),(9.0,11.6),(9.1,8.6),(9.2,12.5),(9.2,10.0),(9.3,5.4),(9.3,7.7),(9.4,11.0),(9.5,9.2),(9.5,13.4),(9.6,6.8),(9.6,10.6),(9.7,8.3),(9.8,12.1),(9.8,4.9),(9.9,9.7),(9.9,11.3),(9.1,9.8),(9.4,8.5),(9.7,10.3),
    (10.0,8.0),(10.0,16.9),(10.1,11.0),(10.2,6.0),(10.2,13.0),(10.3,9.3),(10.4,12.0),(10.4,17.4),(10.5,7.6),(10.6,10.5),(10.6,14.0),(10.7,5.1),(10.8,11.7),(10.8,8.9),(10.9,13.3),(11.0,10.0),(11.0,15.6),(11.1,6.9),(11.2,12.5),(11.2,9.4),
    (11.3,11.1),(11.4,14.5),(11.4,4.9),(11.5,10.7),(11.6,13.8),(11.7,8.3),(11.8,12.4),(11.8,16.2),(11.9,11.4),(10.5,11.3),
    (19.6,25.4),(22.6,25.3),(23.2,24.4),(24.5,24.4),(24.7,23.9),(25.2,24.4),(24.9,17.7),(25.5,16.7),(26.0,16.9),(23.0,19.4),(22.7,17.0),(22.3,18.8),(21.8,20.9),(21.6,18.1),(21.1,17.7),(20.4,11.4),(20.3,22.5),(20.9,20.0),(20.6,16.2),(20.2,19.5),
    (19.8,17.4),(19.5,15.0),(19.3,20.8),(19.0,19.7),(18.8,22.0),(18.5,18.3),(18.3,20.2),(18.0,16.0),(17.8,19.2),(17.6,14.0),(17.4,21.0),(17.2,17.5),(17.0,12.8),(16.8,18.6),(16.5,15.7),(16.3,20.0),(16.1,12.0),(15.9,17.3),(15.7,14.3),(15.5,19.4),
    (15.3,11.0),(15.2,16.5),(15.0,13.6),(14.9,10.2),(14.7,18.1),(14.5,15.0),(14.3,12.3),(14.1,17.2),(13.9,9.5),(13.8,14.8),(13.6,16.3),(13.4,11.7),(13.2,13.5),(13.0,18.0),(12.9,9.8),(12.7,15.2),(12.5,12.0),(12.3,16.6),(12.1,10.5),(12.0,13.6),
    (21.4,19.6),(22.0,20.0),(19.6,13.3),(16.8,11.3),(18.1,17.0),(17.5,18.8),(16.3,16.9),(19.9,18.9),(15.8,19.0),(14.4,19.8),(11.5,20.1),(15.6,12.6),
]

s6_nn = [
    (0.7,1.5),(0.7,2.1),(0.8,1.8),(0.8,2.6),(0.9,1.2),(0.9,2.3),(1.0,1.7),(1.0,3.0),(1.0,0.9),(1.1,2.0),(1.1,3.6),(1.2,1.4),(1.2,2.7),(1.3,6.3),(1.3,2.2),(1.4,1.0),(1.4,3.2),(1.5,1.8),(1.5,2.6),(1.5,4.5),
    (1.6,1.3),(1.6,3.0),(1.7,2.2),(1.7,4.1),(1.8,0.8),(1.8,2.8),(1.9,1.7),(1.9,3.5),(2.0,2.4),(2.0,5.4),(2.0,7.3),(2.1,1.2),(2.1,3.1),(2.2,2.0),(2.2,4.3),(2.3,2.9),(2.3,0.7),(2.3,6.0),(2.4,1.6),(2.4,3.7),(2.5,2.5),(2.5,4.9),(1.7,3.3),(1.9,2.5),(2.1,4.7),(2.3,3.4),(2.5,1.9),(2.2,2.6),
    (2.6,3.2),(2.6,5.8),(2.7,1.4),(2.7,4.1),(2.8,2.6),(2.8,7.1),(2.9,3.6),(2.9,1.9),(3.0,11.3),(3.0,10.8),(3.0,4.7),(3.0,2.3),(3.1,3.1),(3.1,6.4),(3.2,1.6),(3.2,4.0),(3.3,2.9),(3.3,5.3),(3.4,3.6),(3.4,1.2),(3.5,4.4),(3.5,7.7),(2.6,2.2),(2.8,4.9),(3.0,3.7),(3.2,2.5),(3.4,5.9),(2.9,6.0),(3.1,4.5),(3.5,2.8),
    (3.6,3.3),(3.6,5.6),(3.7,2.0),(3.7,4.3),(3.8,6.9),(3.8,3.0),(3.9,1.1),(3.9,5.0),(4.0,3.8),(4.0,8.2),(4.1,11.6),(4.1,2.6),(4.1,5.5),(4.2,4.5),(4.2,1.8),(4.3,3.5),(4.3,6.6),(4.4,2.4),(4.4,4.9),(4.5,3.3),(4.5,7.5),(3.7,4.6),(3.9,3.6),(4.1,4.0),(4.3,5.4),(4.5,5.8),(3.8,2.4),(4.0,6.0),(4.2,3.0),(4.4,8.7),
    (4.6,4.3),(4.6,2.0),(4.7,5.8),(4.7,3.3),(4.8,6.9),(4.8,1.6),(4.9,4.7),(4.9,9.2),(5.0,3.6),(5.0,5.5),(5.0,10.1),(5.1,2.5),(5.1,6.4),(5.2,4.2),(5.2,7.8),(5.3,3.0),(5.3,5.1),(5.4,6.0),(5.4,1.9),(5.5,4.6),(5.5,8.6),(4.6,6.1),(4.8,4.0),(5.0,4.5),(5.2,5.6),(5.4,3.7),(4.7,7.6),(4.9,3.0),(5.1,5.0),(5.3,6.8),
    (5.6,3.1),(5.6,5.3),(5.7,7.0),(5.7,2.3),(5.8,4.6),(5.8,9.6),(5.9,6.1),(5.9,3.7),(6.0,5.0),(6.0,8.1),(6.1,2.7),(6.1,6.6),(6.2,4.2),(6.2,10.5),(6.3,5.7),(6.3,7.5),(6.4,3.3),(6.4,6.2),(6.5,4.9),(6.5,9.0),(5.6,6.4),(5.8,5.6),(6.0,6.8),(6.2,5.3),(6.4,8.0),(5.7,4.1),(5.9,7.7),(6.1,4.8),(6.3,3.7),(6.5,6.7),
    (6.6,5.6),(6.6,12.6),(6.7,7.3),(6.7,3.6),(6.8,6.2),(6.8,9.3),(6.9,4.7),(6.9,8.0),(7.0,6.7),(7.0,11.2),(7.1,2.8),(7.1,5.4),(7.2,7.7),(7.2,9.9),(7.3,4.3),(7.3,6.6),(7.4,8.5),(7.4,1.6),(7.5,5.8),(7.5,7.2),(6.6,8.4),(6.8,7.1),(7.0,5.2),(7.2,6.3),(7.4,7.0),(6.7,5.0),(6.9,6.4),(7.1,8.7),(7.3,10.7),(7.5,4.7),
    (7.6,6.8),(7.6,9.4),(7.7,5.2),(7.7,8.0),(7.8,11.5),(7.8,3.8),(7.9,7.3),(7.9,6.1),(8.0,9.0),(8.0,4.8),(8.1,7.9),(8.1,12.2),(8.2,6.5),(8.2,10.2),(8.3,8.4),(8.3,3.5),(8.4,7.0),(8.4,9.6),(8.5,5.7),(8.5,8.8),(7.6,7.7),(7.8,8.7),(8.0,7.4),(8.2,8.1),(8.4,6.0),(7.7,10.4),(7.9,4.6),(8.1,9.3),(8.3,11.0),(8.5,7.6),
    (8.6,9.3),(8.6,6.5),(8.7,11.1),(8.7,8.0),(8.8,4.5),(8.8,9.9),(8.9,7.3),(8.9,12.6),(9.0,8.6),(9.0,15.0),(9.1,5.8),(9.1,10.5),(9.2,7.8),(9.2,9.4),(9.3,11.8),(9.3,6.6),(9.4,8.9),(9.4,13.4),(9.5,10.2),(9.5,4.9),(8.6,8.1),(8.8,8.6),(9.0,9.9),(9.2,8.3),(9.4,10.7),(8.7,10.4),(8.9,6.0),(9.1,8.9),(9.3,7.3),(9.5,9.0),
    (9.6,7.7),(9.6,11.3),(9.7,9.3),(9.7,13.6),(9.8,6.2),(9.8,10.6),(9.9,8.5),(9.9,12.1),(10.0,9.8),(10.0,5.5),(10.1,11.0),(10.1,7.4),(10.2,13.0),(10.2,9.1),(10.3,10.4),(10.3,6.7),(10.4,12.4),(10.4,8.3),(10.5,11.5),(10.5,9.6),(9.6,9.9),(9.8,8.9),(10.0,11.9),(10.2,10.7),(10.4,9.9),(9.7,7.1),(9.9,10.1),(10.3,8.0),
    (10.6,8.4),(10.6,12.9),(10.7,10.2),(10.7,6.0),(10.8,11.6),(10.8,14.0),(10.9,9.0),(10.9,7.5),(11.0,10.8),(11.0,13.4),(11.1,8.1),(11.1,12.0),(11.2,9.8),(11.2,14.2),(11.3,6.7),(11.3,11.2),(11.4,10.0),(11.4,12.8),(11.5,8.8),(11.5,11.9),(10.7,11.4),(10.9,12.5),(11.1,10.4),(11.3,9.4),(11.5,13.6),(10.8,9.5),
    (11.6,10.4),(11.6,14.5),(11.7,8.0),(11.7,12.3),(11.8,11.0),(11.9,13.3),(11.9,9.1),(12.0,10.7),(12.0,14.8),(12.1,12.0),(12.1,7.6),(12.2,5.3),(12.2,10.0),(12.3,13.7),(12.3,11.4),(12.4,8.7),(12.4,12.6),(12.5,14.2),(12.5,10.6),(11.8,12.7),(12.2,12.9),(12.0,9.4),
    (12.6,12.1),(12.6,9.4),(12.7,13.9),(12.8,11.2),(12.8,15.3),(12.9,8.7),(12.9,12.8),(13.0,20.1),(13.0,10.3),(13.1,14.0),(13.1,12.0),(13.2,9.0),(13.3,13.3),(13.3,15.8),(13.4,11.0),(13.5,12.5),(13.5,17.0),(13.2,16.4),
    (13.6,14.7),(13.6,10.2),(13.7,17.6),(13.8,12.6),(13.8,16.0),(13.9,11.4),(14.0,15.0),(14.0,18.3),(14.1,13.3),(14.2,9.9),(14.2,16.8),(14.3,12.0),(14.4,19.1),(14.4,14.1),(14.5,19.8),(14.5,11.1),(14.6,16.0),(14.7,13.1),(14.8,19.7),(14.8,17.5),(14.9,14.5),(15.0,19.5),(15.0,12.3),(14.6,10.6),
    (15.1,12.6),(15.4,13.2),(15.8,12.9),(16.0,13.2),(16.4,13.0),(17.0,11.5),(17.5,10.6),(17.0,17.4),(17.5,17.3),(18.2,13.7),(18.7,16.9),(18.7,15.7),(18.9,15.1),(11.3,6.7),(15.2,14.6),(15.6,15.6),
]

methods = ["Min. distribution error", "Standard MCP", "NN-MCP"]
method_colors = ["#ff0000", "#0000ff", "#008000"]
stations = ["Station 5", "Station 6"]
panel_data = [
    [s5_min_dist, s6_min_dist],
    [s5_standard, s6_standard],
    [s5_nn, s6_nn],
]
axis_ticks = [0, 5, 10, 15, 20, 25, 30]
top_left_yticks = [-5, 0, 5, 10, 15, 20, 25, 30]
diagonal = [0, 30]

plt.rcParams.update({
    "font.family": "DejaVu Sans",
    "font.weight": "bold",
    "axes.labelweight": "bold",
    "axes.titleweight": "bold",
})

W, H = 852, 480
fig = plt.figure(figsize=(W / 100, H / 100), dpi=100)
fig.patch.set_facecolor("white")

col_px = [(27, 423), (451, 848)]
row_px = [(17, 147), (172, 303), (329, 458)]

for r, method in enumerate(methods):
    for c, station in enumerate(stations):
        x0, x1 = col_px[c]
        y0, y1 = row_px[r]
        ax = fig.add_axes([x0 / W, 1 - y1 / H, (x1 - x0) / W, (y1 - y0) / H])
        pts = panel_data[r][c]
        obs = [p[0] for p in pts]
        pred = [p[1] for p in pts]
        ax.plot(obs, pred, linestyle="none", marker="o", ms=3.1, mew=0,
                color=method_colors[r], label=method, zorder=3, clip_on=True)
        ax.plot(diagonal, diagonal, color="0.35", lw=0.7, zorder=4)
        ax.set_xlim(0, 30)
        if r == 0 and c == 0:
            ax.set_ylim(-5, 30)
            ax.set_yticks(top_left_yticks)
        else:
            ax.set_ylim(0, 30)
            ax.set_yticks(axis_ticks)
        ax.set_xticks(axis_ticks)
        ax.grid(True, color="0.4", linestyle=(0, (1, 1.5)), linewidth=0.6)
        ax.set_axisbelow(True)
        ax.tick_params(direction="in", top=True, right=True, length=3,
                       width=0.6, labelsize=5.8, pad=1.5)
        for lab in ax.get_xticklabels() + ax.get_yticklabels():
            lab.set_fontweight("bold")
        for sp in ax.spines.values():
            sp.set_linewidth(0.8)
            sp.set_color("0.2")
        ax.set_xlabel("windspeed observed [m/s]", fontsize=5.3, labelpad=0.5)
        ax.set_ylabel("windspeed prediction [m/s]", fontsize=5.3, labelpad=1)
        if r == 0:
            ax.set_title("Windspeed Scatter Diagrams, " + station, fontsize=7.0, pad=1.5)
        leg = ax.legend(loc="upper right", numpoints=2, fontsize=6.9,
                        markerscale=0.9, handlelength=1.8, handletextpad=1.0,
                        borderpad=0.3, borderaxespad=0.4, fancybox=False,
                        framealpha=1, edgecolor="0.2")
        leg.get_frame().set_linewidth(0.8)
        for t in leg.get_texts():
            t.set_fontweight("bold")

fig.savefig("out.png", dpi=100, facecolor="white")
